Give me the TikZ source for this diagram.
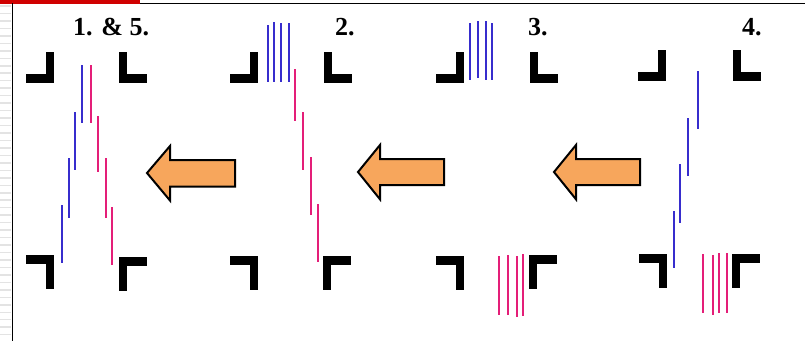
\documentclass[tikz,border=0pt]{standalone}
\usepackage{fontspec}
\setmainfont{Liberation Serif}
\definecolor{lineblue}{RGB}{55,45,205}
\definecolor{linepink}{RGB}{228,30,120}
\definecolor{arroworange}{RGB}{247,166,92}
\definecolor{barred}{RGB}{208,0,0}
\tikzset{
  bk/.style={fill=black},
  brTL/.pic={\fill[bk] (20,0) rectangle (28,31); \fill[bk] (0,22) rectangle (28,31);},
  brTR/.pic={\fill[bk] (0,0) rectangle (8,31); \fill[bk] (0,22) rectangle (28,31);},
  brBL/.pic={\fill[bk] (0,0) rectangle (28,9); \fill[bk] (20,0) rectangle (28,34);},
  brBR/.pic={\fill[bk] (0,0) rectangle (28,9); \fill[bk] (0,0) rectangle (8,34);},
  blueline/.style={draw=lineblue, line width=2pt},
  pinkline/.style={draw=linepink, line width=2pt},
  bigarrow/.style={fill=arroworange, draw=black, line width=2pt, line join=miter},
  steplabel/.style={font=\bfseries\fontsize{26}{26}\selectfont, inner sep=0pt, anchor=base west},
}
\begin{document}
\begin{tikzpicture}[x=1pt,y=-1pt]
\useasboundingbox (0,0) rectangle (805,341);
\fill[white] (0,0) rectangle (805,341);
% left margin stripes
\foreach \k in {0,...,44} {\draw[gray!22, line width=1.5pt] (0,{6+7.47*\k}) -- (11,{6+7.47*\k});}
% frame
\fill[barred] (0,0) rectangle (140,3.6);
\draw[black, line width=1.3pt] (140,3.3) -- (805,3.3);
\draw[black, line width=1.3pt] (12.5,3) -- (12.5,341);
% labels
\node[steplabel] (l1) at (73,35) {1. \& 5.};
\node[steplabel] (l2) at (335,35) {2.};
\node[steplabel] (l3) at (528,35) {3.};
\node[steplabel] (l4) at (742,35) {4.};
% brackets
\pic at (26,52) {brTL};  \pic at (119,52) {brTR};
\pic at (26,255) {brBL}; \pic at (119,257) {brBR};
\pic at (230,52) {brTL}; \pic at (324,52) {brTR};
\pic at (230,256) {brBL}; \pic at (323,256) {brBR};
\pic at (436,52) {brTL}; \pic at (530,52) {brTR};
\pic at (436,256) {brBL}; \pic at (529,255) {brBR};
\pic at (638,50) {brTL}; \pic at (733,50) {brTR};
\pic at (639,254) {brBL}; \pic at (732,254) {brBR};
% blue lines
\foreach \x/\a/\b in {82.3/65/123, 75/112/170, 69.3/158/218, 61.7/205/263,
  267.7/25/82, 273.7/22/82, 281.3/23/82, 289/23/82,
  470/23/80, 477.7/21/78, 485.7/21/80, 491.7/23/80,
  697.7/71/129, 688/118/176, 680/164/223, 674/211/268}
  {\draw[blueline] (\x,\a) -- (\x,\b);}
% pink lines
\foreach \x/\a/\b in {90.7/65/123, 98.3/116/172, 106/158/218, 112/207/265,
  295/69/121, 302.7/112/170, 310.7/157/215, 318.3/204/262,
  499/256/315, 508.3/255/315, 516.7/256/317, 523.3/254/316,
  703.3/254/313, 712.7/255/315, 719/253/313, 726.7/253/313}
  {\draw[pinkline] (\x,\a) -- (\x,\b);}
% arrows
\draw[bigarrow] (235,160) -- (170,160) -- (170,146) -- (147,173) -- (170,200.5) -- (170,186.5) -- (235,186.5) -- cycle;
\draw[bigarrow] (444,159) -- (380,159) -- (380,145) -- (358,172) -- (380,199.3) -- (380,185) -- (444,185) -- cycle;
\draw[bigarrow] (640,159) -- (576,159) -- (576,145) -- (554,172) -- (576,199.3) -- (576,185) -- (640,185) -- cycle;
\end{tikzpicture}
\end{document}
